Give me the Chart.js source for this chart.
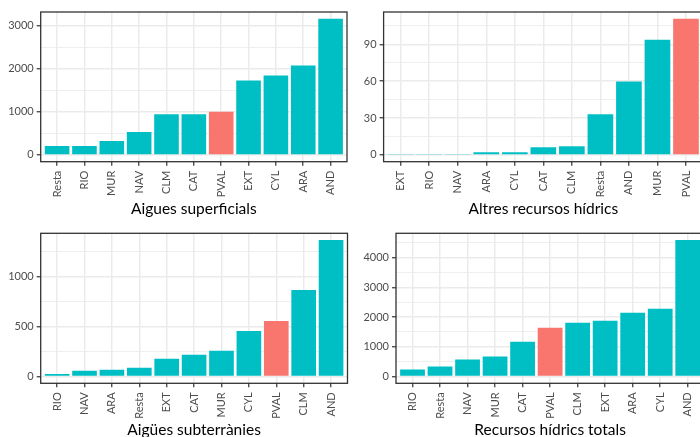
<!DOCTYPE html>
<html><head><meta charset="utf-8">
<script src="https://cdn.jsdelivr.net/npm/chart.js@4/dist/chart.umd.min.js"></script>
<style>
html,body{margin:0;padding:0;width:700px;height:437px;overflow:hidden;background:#fff;}
canvas{position:absolute;}
</style></head><body>
<canvas id="c1" width="350" height="221" style="left:0px;top:0px"></canvas>
<canvas id="c2" width="356" height="221" style="left:350px;top:0px"></canvas>
<canvas id="c3" width="350" height="221" style="left:0px;top:221px"></canvas>
<canvas id="c4" width="356" height="221" style="left:350px;top:221px"></canvas>
<script>
// ---- data ----
const supCategories = ['Resta','RIO','MUR','NAV','CLM','CAT','PVAL','EXT','CYL','ARA','AND'];
const supValues     = [208, 205, 323, 531, 946, 946, 1000, 1731, 1846, 2077, 3162];
const supTicks      = [0, 1000, 2000, 3000];

const altCategories = ['EXT','RIO','NAV','ARA','CYL','CAT','CLM','Resta','AND','MUR','PVAL'];
const altValues     = [0.4, 0.4, 0.4, 2.2, 2.2, 6.2, 7.0, 33.0, 59.8, 93.8, 110.8];
const altTicks      = [0, 30, 60, 90];

const subCategories = ['RIO','NAV','ARA','Resta','EXT','CAT','MUR','CYL','PVAL','CLM','AND'];
const subValues     = [25, 57, 67, 87, 177, 217, 257, 457, 557, 867, 1367];
const subTicks      = [0, 500, 1000];

const totCategories = ['RIO','Resta','NAV','MUR','CAT','PVAL','CLM','EXT','ARA','CYL','AND'];
const totValues     = [235, 335, 570, 670, 1173, 1643, 1810, 1877, 2145, 2280, 4593];
const totTicks      = [0, 1000, 2000, 3000, 4000];

// ---- style ----
const TEAL = '#00BFC4', SALMON = '#F8766D', HIGHLIGHT = 'PVAL';
const FAMILY = 'Lato, "Open Sans", sans-serif';
const GRID = '#EBEBEB', DARK = '#333333', TICKTXT = '#4D4D4D';

const borderPlugin = {
  id: 'panelBorder',
  afterDatasetsDraw(chart) {
    const {ctx, chartArea: a} = chart;
    ctx.save();
    ctx.strokeStyle = DARK;
    ctx.lineWidth = 1.3;
    ctx.strokeRect(a.left, a.top, a.right - a.left, a.bottom - a.top);
    ctx.restore();
  }
};

function makePanel(id, categories, values, majorTicks, title, box) {
  const maxV = Math.max(...values);
  const yMin = -0.05 * maxV, yMax = 1.05 * maxV;
  const step = majorTicks[1] - majorTicks[0];
  const minorTicks = majorTicks.map(t => t + step / 2).filter(v => v <= yMax);
  const allTicks = majorTicks.concat(minorTicks).sort((a, b) => a - b);
  const isMajor = v => majorTicks.includes(v);

  new Chart(document.getElementById(id), {
    type: 'bar',
    data: {
      datasets: [{
        data: categories.map((c, i) => ({x: i, y: values[i]})),
        backgroundColor: categories.map(c => c === HIGHLIGHT ? SALMON : TEAL),
        borderWidth: 0,
        barPercentage: 0.9,
        categoryPercentage: 1
      }]
    },
    options: {
      responsive: false,
      animation: false,
      devicePixelRatio: 1,
      layout: {padding: {top: box.top, right: box.right, left: 0, bottom: 0}},
      plugins: {legend: {display: false}, tooltip: {enabled: false}},
      scales: {
        x: {
          type: 'linear',
          min: -0.6,
          max: categories.length - 0.4,
          offset: false,
          afterBuildTicks: s => { s.ticks = categories.map((c, i) => ({value: i})); },
          afterFit: s => { s.height = box.xh; },
          ticks: {
            autoSkip: false, minRotation: 90, maxRotation: 90, padding: 5,
            color: TICKTXT, font: {family: FAMILY, size: 11},
            callback: v => categories[v]
          },
          grid: {color: GRID, lineWidth: 1.5, drawTicks: true, tickLength: 4, tickColor: DARK, tickWidth: 1.2, offset: false},
          border: {display: false},
          title: {display: true, text: title, color: '#000000', font: {family: FAMILY, size: 15.5}, padding: {top: 0, bottom: box.tp}}
        },
        y: {
          type: 'linear',
          min: yMin,
          max: yMax,
          afterBuildTicks: s => { s.ticks = allTicks.map(v => ({value: v})); },
          afterFit: s => { s.width = box.yw; },
          ticks: {
            autoSkip: false, padding: 3, color: TICKTXT, font: {family: FAMILY, size: 11},
            callback: v => isMajor(v) ? String(v) : ''
          },
          grid: {
            color: GRID,
            lineWidth: ctx => (ctx.tick && isMajor(ctx.tick.value)) ? 1.5 : 0.8,
            drawTicks: true, tickLength: 4,
            tickColor: ctx => (ctx.tick && isMajor(ctx.tick.value)) ? DARK : 'rgba(0,0,0,0)',
            tickWidth: 1.2
          },
          border: {display: false}
        }
      }
    },
    plugins: [borderPlugin]
  });
}

makePanel('c1', supCategories, supValues, supTicks, 'Aigues superficials',   {top: 12,   right: 3,   yw: 40.7, xh: 59.3, tp: 2.5});
makePanel('c2', altCategories, altValues, altTicks, 'Altres recursos hídrics', {top: 12,   right: 2.9, yw: 33.6, xh: 59.3, tp: 3});
makePanel('c3', subCategories, subValues, subTicks, 'Aigües subterrànies',   {top: 12.3, right: 2.5, yw: 40.7, xh: 58.7, tp: 2.5});
makePanel('c4', totCategories, totValues, totTicks, 'Recursos hídrics totals', {top: 12.3, right: 1.5, yw: 46,   xh: 58.7, tp: 2.5});
</script>
</body></html>
